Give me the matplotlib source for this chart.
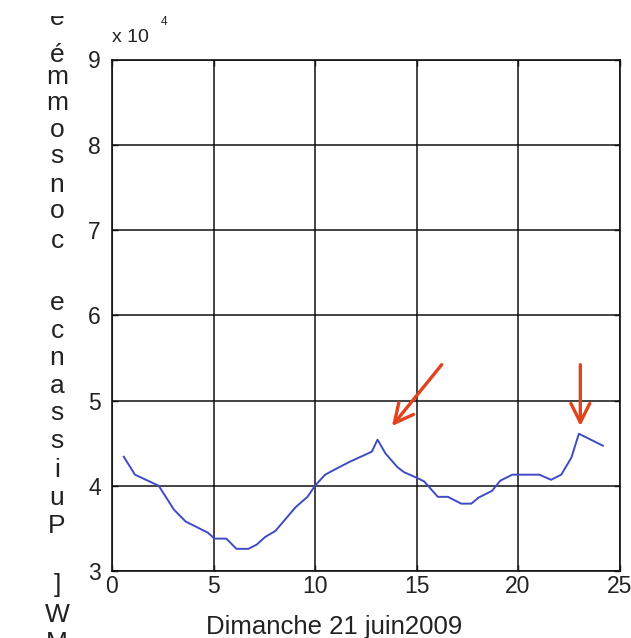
import matplotlib
matplotlib.use("Agg")
import matplotlib.pyplot as plt
from matplotlib.ticker import FixedLocator, FuncFormatter
from matplotlib.transforms import Bbox

plt.rcParams['font.family'] = ['Liberation Sans', 'DejaVu Sans']

# ---- data (hours, MW) ----
hours = [0.58, 1.13, 2.3, 3.05, 3.63, 4.72, 5.05, 5.63, 6.13, 6.72, 7.13, 7.55,
         8.05, 9.05, 9.63, 10.0, 10.5, 11.05, 11.7, 12.8, 13.08, 13.47, 14.05,
         14.38, 15.05, 15.38, 16.05, 16.55, 17.2, 17.7, 18.05, 18.72, 19.13,
         19.72, 21.05, 21.63, 22.13, 22.63, 23.0, 24.18]
power_mw = [43400, 41300, 40000, 37200, 35800, 34500, 33800, 33800, 32600, 32600,
            33100, 34000, 34700, 37500, 38700, 40000, 41300, 42000, 42800, 44000,
            45400, 43800, 42200, 41600, 40900, 40500, 38700, 38700, 37900, 37900,
            38600, 39400, 40600, 41300, 41300, 40700, 41300, 43300, 46100, 44700]

arrow1_from = (16.24, 54200)
arrow1_to = (13.79, 47000)
arrow2_from = (23.07, 54200)
arrow2_to = (23.07, 47000)

xticks = [0, 5, 10, 15, 20, 25]
yticks = [30000, 40000, 50000, 60000, 70000, 80000, 90000]
xlabel = "Dimanche 21 juin2009"
ylabel_chars = ['e', 'é', 'm', 'm', 'o', 's', 'n', 'o', 'c', ' ', 'e', 'c', 'n',
                'a', 's', 's', 'i', 'u', 'P', ' ', ']', 'W', 'M']

# ---- layout ----
W, H = 631, 638
fig = plt.figure(figsize=(W / 100, H / 100), dpi=100)
fig.patch.set_facecolor('white')

ax_l, ax_r, ax_t, ax_b = 112, 619.5, 59.5, 571
ax = fig.add_axes([ax_l / W, 1 - ax_b / H, (ax_r - ax_l) / W, (ax_b - ax_t) / H])

ax.plot(hours, power_mw, color='#3f4bc4', lw=1.4, zorder=3)

ax.set_xlim(0, 25)
ax.set_ylim(30000, 90000)
ax.xaxis.set_major_locator(FixedLocator(xticks))
ax.yaxis.set_major_locator(FixedLocator(yticks))
ax.yaxis.set_major_formatter(FuncFormatter(lambda v, p: f"{v / 1e4:g}"))
ax.grid(True, color='#111111', lw=1.1, ls='-')
ax.set_axisbelow(True)
for s in ax.spines.values():
    s.set_color('#111111')
    s.set_linewidth(1.2)
ax.tick_params(direction='in', length=4, width=1, colors='#111111',
               top=True, right=True, labelsize=16.5)
ax.tick_params(axis='y', pad=8)
ax.tick_params(axis='x', pad=3)
for lab in ax.get_xticklabels() + ax.get_yticklabels():
    lab.set_color('#222222')

# arrows
for a_from, a_to in [(arrow1_from, arrow1_to), (arrow2_from, arrow2_to)]:
    ax.annotate('', xy=a_to, xytext=a_from,
                arrowprops=dict(arrowstyle='->', color='#e2421c', lw=2.4,
                                mutation_scale=34, shrinkA=0, shrinkB=0),
                zorder=4)

# x label
fig.text(334 / W, 1 - 627 / H, xlabel, fontsize=18.5, ha='center', va='center',
         color='#222222')

# multiplier
fig.text(112 / W, 1 - 42 / H, 'x 10', fontsize=14, ha='left', va='baseline',
         color='#222222')
fig.text(161 / W, 1 - 25 / H, '4', fontsize=8.5, ha='left', va='baseline',
         color='#222222')

# stacked y label
baselines = [25, 62, 84, 110, 137, 163, 192, 218, 248, None, 310, 338, 365,
             393, 420, 448, 477, 505, 533, None, 592, 622, 650]
clip = Bbox.from_extents(0, 0, W, H - 16)  # display coords (origin bottom-left)
for ch, b in zip(ylabel_chars, baselines):
    if b is None or ch == ' ':
        continue
    t = fig.text(57 / W, 1 - b / H, ch, fontsize=19, ha='center', va='baseline',
                 color='#222222')
    t.set_clip_box(clip)
    t.set_clip_on(True)

fig.savefig('out.png', dpi=100)
